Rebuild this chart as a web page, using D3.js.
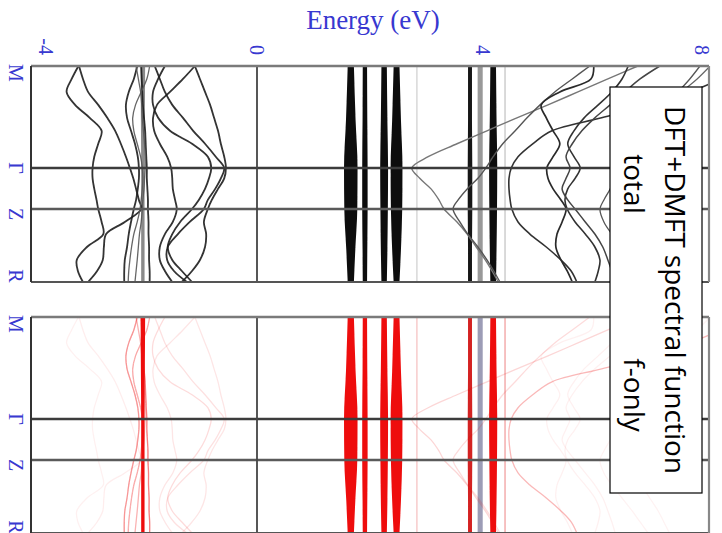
<!DOCTYPE html>
<html>
<head>
<meta charset="utf-8">
<script src="https://cdn.jsdelivr.net/npm/d3@7/dist/d3.min.js"></script>
<style>
  body { margin: 0; background: #fff; }
  svg { display: block; }
</style>
</head>
<body>
<div id="chart"></div>
<script>
// ── Data ─────────────────────────────────────────────
// k path, as a fraction of the panel height
const kTicks  = [0, 0.472, 0.662, 1];
const kLabels = ['M', 'Γ', 'Z', 'R'];
const kGrid   = [0, 0.06, 0.12, 0.18, 0.24, 0.30, 0.36, 0.42, 0.472, 0.52, 0.569,
                 0.62, 0.662, 0.722, 0.778, 0.838, 0.898, 0.949, 1];
const energyTicks = [-4, 0, 4, 8];

// dispersive bands below E_F, energy (eV) at each kGrid point
const lowBands = [
  [-3.16, -3.28, -3.37, -3.22, -2.96, -2.75, -2.81, -2.88, -2.91, -2.91, -2.88, -2.84, -2.81, -2.75, -2.72, -3.01, -3.19, -3.17, -3.08],
  [-3.15, -3.08, -2.99, -2.81, -2.65, -2.51, -2.41, -2.32, -2.25, -2.19, -2.14, -2.09, -2.05, -2.34, -2.67, -2.71, -2.73, -2.83, -2.99],
  [-2.12, -2.18, -2.27, -2.32, -2.30, -2.23, -2.16, -2.11, -2.09, -2.09, -2.11, -2.14, -2.18, -2.23, -2.27, -2.30, -2.34, -2.35, -2.35],
  [-2.05, -2.04, -2.03, -2.02, -2.00, -1.98, -1.97, -1.96, -1.95, -1.95, -1.94, -1.93, -1.93, -1.92, -1.92, -1.91, -1.91, -1.90, -1.90],
  [-1.81, -1.72, -1.63, -1.50, -1.31, -1.13, -0.92, -0.73, -0.58, -0.64, -0.74, -0.87, -0.94, -1.19, -1.40, -1.58, -1.59, -1.47, -1.24],
  [-1.10, -1.31, -1.54, -1.77, -1.84, -1.82, -1.72, -1.59, -1.52, -1.50, -1.49, -1.45, -1.42, -1.49, -1.63, -1.72, -1.72, -1.63, -1.50],
  [-1.10, -1.01, -0.92, -0.83, -0.76, -0.69, -0.64, -0.58, -0.55, -0.58, -0.69, -0.80, -0.87, -0.94, -0.90, -0.92, -1.01, -1.15, -1.33],
  [-1.63, -1.75, -1.84, -1.84, -1.75, -1.54, -1.15, -0.87, -0.81, -0.85, -0.92, -1.03, -1.15, -1.36, -1.50, -1.58, -1.50, -1.33, -1.15],
  [-1.90, -1.95, -2.05, -2.15, -2.20, -2.18, -2.12, -2.06, -2.03, -2.02, -2.03, -2.05, -2.07, -2.12, -2.18, -2.22, -2.25, -2.27, -2.28],
  [-2.14, -2.10, -2.06, -2.04, -2.03, -2.01, -1.99, -1.98, -1.98, -1.99, -2.00, -2.02, -2.03, -2.05, -2.08, -2.10, -2.12, -2.14, -2.16]
];

// dispersive bands above the f levels
const highBands = [
  [6.74, 6.21, 5.68, 5.15, 4.60, 4.07, 3.54, 3.03, 2.74, 2.88, 3.08, 3.22, 3.31, 3.54, 3.72, 3.88, 4.04, 4.16, 4.27],
  [5.89, 5.58, 5.27, 5.01, 4.78, 4.57, 4.35, 4.18, 4.05, 3.91, 3.72, 3.56, 3.47, 3.59, 3.73, 3.91, 4.07, 4.19, 4.30],
  [8.60, 8.20, 7.66, 6.96, 6.10, 5.22, 4.88, 4.62, 4.50, 4.46, 4.46, 4.48, 4.51, 4.62, 4.83, 5.12, 5.38, 5.56, 5.66],
  [5.96, 5.91, 5.36, 5.03, 5.12, 5.24, 5.36, 5.24, 5.13, 5.15, 5.24, 5.38, 5.47, 5.40, 5.31, 5.29, 5.38, 5.49, 5.58],
  [6.57, 6.46, 6.28, 6.04, 5.79, 5.61, 5.50, 5.61, 5.72, 5.63, 5.50, 5.45, 5.49, 5.63, 5.81, 5.98, 6.07, 6.04, 5.98],
  [7.13, 6.78, 6.51, 6.25, 5.98, 5.75, 5.58, 5.47, 5.54, 5.47, 5.40, 5.50, 5.63, 5.81, 5.98, 6.12, 6.21, 6.28, 6.34],
  [7.84, 7.66, 7.45, 7.22, 6.99, 6.78, 6.57, 6.39, 6.28, 6.32, 6.25, 6.14, 6.07, 6.14, 6.28, 6.46, 6.64, 6.78, 6.92],
  [8.02, 7.79, 7.52, 7.31, 7.04, 6.80, 6.60, 6.45, 6.40, 6.42, 6.45, 6.50, 6.55, 6.65, 6.80, 6.95, 7.10, 7.20, 7.30]
];

// flat (f-like) levels and their half width (eV) along the path
const flatEnergies = [-2.02, 1.66, 1.91, 2.25, 2.47, 2.83, 3.77, 3.95, 4.18, 4.39];
const flatK = [0, 0.25, 0.472, 0.662, 0.85, 1];
const flatHalfWidth = [
  [0.040, 0.035, 0.030, 0.030, 0.030, 0.030],
  [0.055, 0.085, 0.120, 0.115, 0.080, 0.055],
  [0.038, 0.042, 0.048, 0.048, 0.042, 0.038],
  [0.048, 0.058, 0.070, 0.066, 0.058, 0.048],
  [0.052, 0.078, 0.105, 0.100, 0.078, 0.052],
  [0.012, 0.012, 0.012, 0.012, 0.012, 0.012],
  [0.035, 0.035, 0.040, 0.040, 0.035, 0.035],
  [0.045, 0.045, 0.045, 0.045, 0.045, 0.045],
  [0.050, 0.060, 0.072, 0.068, 0.060, 0.050],
  [0.012, 0.012, 0.012, 0.012, 0.012, 0.012]
];

// ── Styles ───────────────────────────────────────────
const RED = '#ee1111';
const BLUE = '#3838d0';
const panels = [
  { top: 66,
    low:  lowBands.map((b, i) => ({ c: i > 7 ? '#555' : '#1c1c1c', o: 0.9, w: i > 7 ? 1.3 : 1.8 })),
    high: [{ c: '#777', o: 1, w: 1.4 }, { c: '#555', o: 1, w: 1.4 }, { c: '#333', o: 1, w: 1.6 },
           { c: '#2a2a2a', o: 1, w: 1.7 }, { c: '#333', o: 1, w: 1.6 }, { c: '#444', o: 1, w: 1.5 },
           { c: '#555', o: 1, w: 1.3 }, { c: '#666', o: 1, w: 1.2 }],
    flat: ['#8a8a8a', '#111', '#111', '#111', '#111', '#d4d4d4', '#151515', '#999', '#111', '#c8c8c8'] },
  { top: 317,
    low:  [0.06, 0.07, 0.45, 0.55, 0.12, 0.10, 0.10, 0.14, 0.35, 0.3].map(o => ({ c: RED, o, w: 1.3 })),
    high: [0.16, 0.14, 0.28, 0.06, 0.06, 0.06, 0.05, 0.05].map(o => ({ c: RED, o, w: 1.3 })),
    flat: [RED, RED, RED, RED, RED, '#f7c6c6', '#d42020', '#9c9cb6', RED, '#f2a4a4'] }
];
const panelH = 216;

// ── Chart ────────────────────────────────────────────
const width = 722, height = 533;
const x = d3.scaleLinear().domain([-4, 8]).range([31, 709]);

const svg = d3.select('#chart').append('svg')
    .attr('width', width).attr('height', height);

const defs = svg.append('defs');
defs.append('filter').attr('id', 'soft')
    .append('feGaussianBlur').attr('stdDeviation', 0.45);

panels.forEach((p, pi) => {
    const ky = d3.scaleLinear().domain([0, 1]).range([p.top, p.top + panelH]);

    defs.append('clipPath').attr('id', `clip${pi}`)
      .append('rect')
        .attr('x', x(-4)).attr('y', p.top)
        .attr('width', x(8) - x(-4)).attr('height', panelH);

    const g = svg.append('g').attr('clip-path', `url(#clip${pi})`);
    const bandG = g.append('g').attr('filter', 'url(#soft)');

    // flat levels
    const area = d3.area()
        .y(d => ky(d.k)).x0(d => x(d.lo)).x1(d => x(d.hi))
        .curve(d3.curveMonotoneY);
    bandG.selectAll('path.flat')
      .data(flatEnergies.map((e, i) =>
          flatHalfWidth[i].map((w, j) => ({ k: flatK[j], lo: e - w, hi: e + w }))))
      .join('path')
        .attr('class', 'flat')
        .attr('d', area)
        .attr('fill', (d, i) => p.flat[i]);

    // dispersive bands
    const line = d3.line()
        .x(d => x(d[1])).y(d => ky(d[0]))
        .curve(d3.curveCatmullRom.alpha(0.5));
    const drawBands = (bands, styles, cls) => {
        bandG.selectAll('path.' + cls)
          .data(bands.map(b => b.map((e, j) => [kGrid[j], e])))
          .join('path')
            .attr('class', cls)
            .attr('d', line)
            .attr('fill', 'none')
            .attr('stroke', (d, i) => styles[i].c)
            .attr('stroke-opacity', (d, i) => styles[i].o)
            .attr('stroke-width', (d, i) => styles[i].w);
    };
    drawBands(lowBands, p.low, 'low');
    drawBands(highBands, p.high, 'high');

    // high-symmetry lines and Fermi level
    svg.append('g').selectAll('line')
      .data(kTicks.slice(1, 3))
      .join('line')
        .attr('x1', x(-4)).attr('x2', x(8))
        .attr('y1', d => ky(d)).attr('y2', d => ky(d))
        .attr('stroke', (d, i) => i === 0 ? '#3c3c3c' : '#5a5a5a')
        .attr('stroke-width', 2.4);
    svg.append('line')
        .attr('x1', x(0)).attr('x2', x(0))
        .attr('y1', ky(0)).attr('y2', ky(1))
        .attr('stroke', '#444').attr('stroke-width', 1.8);

    // frame
    const frame = svg.append('g').attr('fill', 'none');
    frame.append('line').attr('x1', x(-4)).attr('x2', x(8)).attr('y1', ky(0)).attr('y2', ky(0))
        .attr('stroke', '#7a7a7a').attr('stroke-width', 2.6);
    frame.append('line').attr('x1', x(-4)).attr('x2', x(8)).attr('y1', ky(1)).attr('y2', ky(1))
        .attr('stroke', '#555').attr('stroke-width', 2);
    frame.append('line').attr('x1', x(-4)).attr('x2', x(-4)).attr('y1', ky(0)).attr('y2', ky(1))
        .attr('stroke', '#333').attr('stroke-width', 2);
    frame.append('line').attr('x1', x(8)).attr('x2', x(8)).attr('y1', ky(0)).attr('y2', ky(1))
        .attr('stroke', '#888').attr('stroke-width', 2.2);

    // k labels, rotated like the rest of the figure
    const kOffset = [7, 0, 5, -6];
    svg.append('g').selectAll('text')
      .data(kTicks)
      .join('text')
        .attr('transform', (d, i) => `translate(9,${ky(d) + kOffset[i]}) rotate(90)`)
        .attr('text-anchor', 'middle')
        .style('font-family', '"Liberation Serif", "DejaVu Serif", serif')
        .style('font-size', '20px')
        .style('fill', BLUE)
        .text((d, i) => kLabels[i]);
});

// energy tick labels (rotated)
svg.append('g').selectAll('text')
  .data(energyTicks)
  .join('text')
    .attr('transform', d => `translate(${Math.min(Math.max(x(d), 46), 702) - 7},55) rotate(90)`)
    .attr('text-anchor', 'end')
    .style('font-family', '"Liberation Serif", "DejaVu Serif", serif')
    .style('font-size', '20px')
    .style('fill', BLUE)
    .text(d => d < 0 ? '-' + Math.abs(d) : d);

svg.append('text')
    .attr('x', 373).attr('y', 29)
    .attr('text-anchor', 'middle')
    .style('font-family', '"Liberation Serif", "DejaVu Serif", serif')
    .style('font-size', '27px')
    .style('fill', BLUE)
    .text('Energy (eV)');

// ── Annotation box ───────────────────────────────────
const box = svg.append('g');
box.append('rect')
    .attr('x', 610).attr('y', 87).attr('width', 92).attr('height', 406)
    .attr('fill', '#fff').attr('stroke', '#000').attr('stroke-width', 1.2);
const boxText = [
    { t: 'DFT+DMFT spectral function', bx: 665, cy: 290 },
    { t: 'total', bx: 624, cy: 184 },
    { t: 'f-only', bx: 624, cy: 395 }
];
box.selectAll('text')
  .data(boxText)
  .join('text')
    .attr('transform', d => `translate(${d.bx},${d.cy}) rotate(90)`)
    .attr('text-anchor', 'middle')
    .style('font-family', '"Open Sans", "Noto Sans", sans-serif')
    .style('font-size', '28px')
    .style('fill', '#000')
    .text(d => d.t);
</script>
</body>
</html>
